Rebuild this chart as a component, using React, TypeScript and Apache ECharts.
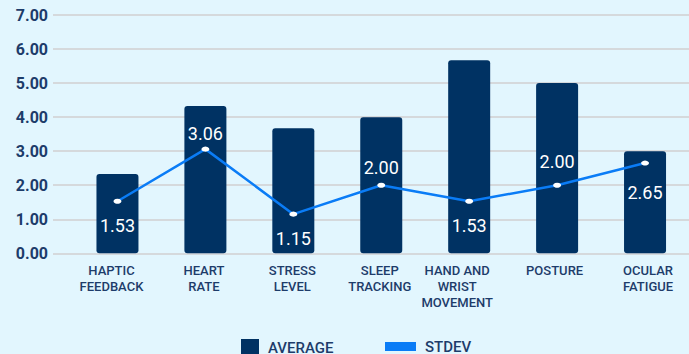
import React, { useEffect, useRef } from "react";
import * as echarts from "echarts";

// Survey results per wearable feature: mean score and standard deviation
const categories = [
  "HAPTIC\nFEEDBACK",
  "HEART\nRATE",
  "STRESS\nLEVEL",
  "SLEEP\nTRACKING",
  "HAND AND\nWRIST\nMOVEMENT",
  "POSTURE",
  "OCULAR\nFATIGUE",
];
const averageValues = [2.33, 4.33, 3.67, 4.0, 5.67, 5.0, 3.0];
const stdevValues = [1.53, 3.06, 1.15, 2.0, 1.53, 2.0, 2.65];
const yTicks = { min: 0, max: 7, step: 1 };

// vertical placement of each STDEV value label relative to its point (px)
const labelShift = [24, -16, 24, -18, 24, -24, 29];
// horizontal nudge of each category label from its band centre (px)
const categoryNudge = [-6, -1.5, -1, -1.5, -12, -2.5, 3];

const NAVY = "#003263";
const TEXT = "#1d3c6a";
const BLUE = "#0a7cf6";
const BG = "#e2f6fe";
const GRID = "#d5d9dc";
const FONT = "Roboto, 'Noto Sans', sans-serif";

const categoryRich: Record<string, any> = {};
categoryNudge.forEach((s, i) => {
  categoryRich["c" + i] = {
    color: TEXT,
    fontFamily: FONT,
    fontSize: 13,
    fontWeight: 500,
    lineHeight: 16,
    padding: s < 0 ? [0, -2 * s, 0, 0] : [0, 0, 0, 2 * s],
  };
});

export default function App() {
  const ref = useRef<HTMLDivElement | null>(null);

  useEffect(() => {
    if (!ref.current) return;
    const chart = echarts.init(ref.current, undefined, { renderer: "svg" });

    const plotTop = 15;
    const plotHeight = 238.3;

    chart.setOption({
      animation: false,
      backgroundColor: BG,
      textStyle: { fontFamily: FONT },
      grid: [
        // wide grid carrying the value axis and its gridlines
        { left: 53, right: 0, top: plotTop, height: plotHeight },
        // category grid holding the bars and the line
        { left: 73.5, width: 616, top: plotTop, height: plotHeight },
      ],
      xAxis: [
        { type: "value", gridIndex: 0, show: false, min: 0, max: 1 },
        {
          type: "category",
          gridIndex: 1,
          data: categories,
          boundaryGap: true,
          axisLine: { show: false },
          axisTick: { show: false },
          axisLabel: {
            interval: 0,
            margin: 9,
            color: TEXT,
            fontFamily: FONT,
            fontSize: 13,
            fontWeight: 500,
            lineHeight: 16,
            formatter: (value: string, index: number) =>
              value
                .split("\n")
                .map((line) => `{c${index}|${line}}`)
                .join("\n"),
            rich: categoryRich,
          },
        },
      ],
      yAxis: [
        {
          type: "value",
          gridIndex: 0,
          min: yTicks.min,
          max: yTicks.max,
          interval: yTicks.step,
          axisLine: { show: false },
          axisTick: { show: false },
          axisLabel: {
            margin: 5,
            color: TEXT,
            fontFamily: FONT,
            fontSize: 16,
            fontWeight: "bold",
            formatter: (v: number) => v.toFixed(2),
          },
          splitLine: { lineStyle: { color: GRID, width: 2 } },
        },
        {
          type: "value",
          gridIndex: 1,
          min: yTicks.min,
          max: yTicks.max,
          interval: yTicks.step,
          show: false,
          splitLine: { show: false },
        },
      ],
      legend: [
        {
          data: [{ name: "AVERAGE", icon: "rect" }],
          left: 241,
          top: 339,
          padding: 0,
          itemWidth: 18,
          itemHeight: 18,
          textStyle: {
            color: TEXT,
            fontFamily: FONT,
            fontSize: 15,
            fontWeight: 500,
            padding: [0, 0, 0, 4],
          },
        },
        {
          data: [{ name: "STDEV", icon: "rect", itemStyle: { color: BLUE } }],
          left: 385,
          top: 339,
          padding: 0,
          itemWidth: 31,
          itemHeight: 9,
          textStyle: {
            color: TEXT,
            fontFamily: FONT,
            fontSize: 15,
            fontWeight: 500,
            padding: [0, 0, 0, 4],
          },
        },
      ],
      series: [
        {
          name: "AVERAGE",
          type: "bar",
          xAxisIndex: 1,
          yAxisIndex: 1,
          data: averageValues,
          barWidth: 42,
          itemStyle: { color: NAVY, borderRadius: 3 },
        },
        {
          name: "STDEV",
          type: "line",
          xAxisIndex: 1,
          yAxisIndex: 1,
          data: stdevValues.map((v, i) => ({
            value: v,
            label: { offset: [0, labelShift[i]] },
          })),
          symbol: "circle",
          symbolSize: [8, 5],
          itemStyle: { color: "#ffffff", borderWidth: 0 },
          lineStyle: { color: BLUE, width: 2.5 },
          label: {
            show: true,
            position: "inside",
            color: "#ffffff",
            fontFamily: FONT,
            fontSize: 18,
            formatter: (p: any) => Number(p.value).toFixed(2),
          },
          z: 5,
        },
      ],
    });

    return () => chart.dispose();
  }, []);

  return (
    <div
      ref={ref}
      style={{ position: "absolute", left: 0, top: 0, width: 689, height: 354 }}
    />
  );
}
